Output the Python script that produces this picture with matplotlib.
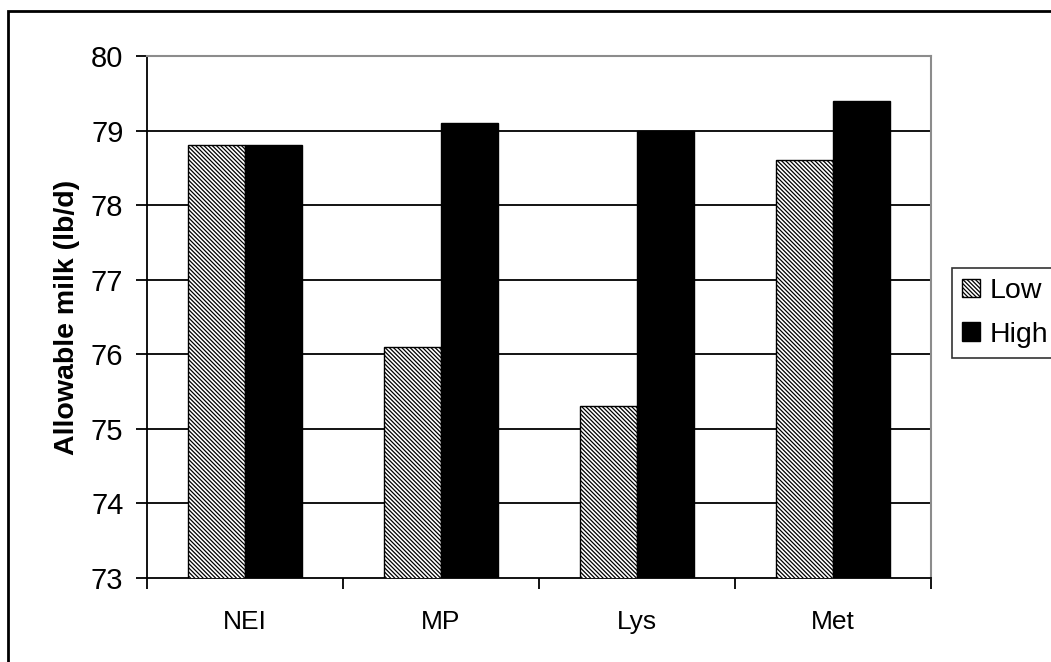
import matplotlib
matplotlib.use("Agg")
import matplotlib.pyplot as plt
from matplotlib.patches import Rectangle
import numpy as np

categories = ["NEI", "MP", "Lys", "Met"]
low_values = [78.8, 76.1, 75.3, 78.6]
high_values = [78.8, 79.1, 79.0, 79.4]
series_names = ["Low", "High"]
y_ticks = [73, 74, 75, 76, 77, 78, 79, 80]

plt.rcParams["font.family"] = ["Liberation Sans", "DejaVu Sans"]
plt.rcParams["hatch.linewidth"] = 0.9
plt.rcParams["hatch.color"] = "black"

W, H = 1051, 662
fig = plt.figure(figsize=(W / 100, H / 100), dpi=100)
ax = fig.add_axes([147 / W, 1 - 578 / H, (931 - 147) / W, (578 - 56) / H])

x = np.arange(len(categories))
bw = 0.29
ax.bar(x - bw / 2, low_values, width=bw, color="white",
       edgecolor="black", linewidth=1.0, hatch="\\" * 8,
       label=series_names[0], zorder=3)
ax.bar(x + bw / 2, high_values, width=bw, color="black",
       edgecolor="black", linewidth=1.0, label=series_names[1], zorder=3)

ax.set_ylim(73, 80)
ax.set_xlim(-0.5, len(categories) - 0.5)
ax.set_yticks(y_ticks)
ax.set_yticklabels([str(v) for v in y_ticks], fontsize=21)
ax.set_xticks(x)
ax.set_xticklabels(categories, fontsize=19)
ax.tick_params(axis="x", length=0, pad=23)
ax.tick_params(axis="y", length=8, width=1.3, direction="out", pad=9)

# category boundary ticks below the axis
ax.set_xticks(np.arange(-0.5, len(categories), 1.0), minor=True)
ax.tick_params(axis="x", which="minor", length=8, width=1.3, direction="out")

for v in y_ticks[1:-1]:
    ax.axhline(v, color="black", linewidth=1.3, zorder=1)

for side in ["left", "bottom"]:
    ax.spines[side].set_color("black")
    ax.spines[side].set_linewidth(1.3)
for side in ["top", "right"]:
    ax.spines[side].set_color("#8c8c8c")
    ax.spines[side].set_linewidth(1.5)

ax.set_ylabel("Allowable milk (lb/d)", fontsize=20.5, fontweight="bold", labelpad=8)

leg = ax.legend(loc="upper left", bbox_to_anchor=(952 / W, 1 - 268 / H),
                bbox_transform=fig.transFigure, fontsize=20.5, frameon=True,
                fancybox=False, edgecolor="black", handlelength=0.63,
                handleheight=0.63, handletextpad=0.35, borderpad=0.35,
                labelspacing=0.62, borderaxespad=0)
leg.get_frame().set_linewidth(1.2)

# outer chart border
fig.patches.append(Rectangle((8 / W, -0.1), 1.2, 1.1 - 11 / H,
                             transform=fig.transFigure, fill=False,
                             edgecolor="black", linewidth=2))

fig.savefig("out.png", dpi=100)
